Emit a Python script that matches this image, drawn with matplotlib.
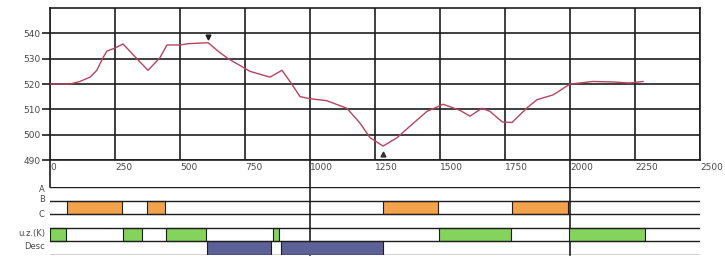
import matplotlib
matplotlib.use("Agg")
import matplotlib.pyplot as plt
import matplotlib.transforms as mtransforms
import numpy as np

# --- Data ---
trace_x = [0, 77, 115, 154, 180, 204, 219, 250, 281, 334, 377, 423, 450, 500,
           531, 608, 646, 685, 731, 769, 846, 892, 923, 962, 1000, 1065, 1142,
           1192, 1231, 1281, 1335, 1385, 1450, 1512, 1577, 1615, 1661, 1692,
           1740, 1777, 1835, 1873, 1935, 2000, 2038, 2088, 2165, 2231, 2281]
trace_y = [520, 520, 521, 522.7, 525.4, 530.4, 533, 534.2, 535.8, 530, 525.4,
           530.4, 535.4, 535.4, 535.9, 536.3, 533, 530, 527.3, 525, 522.7,
           525.4, 521, 515, 514.2, 513.4, 510.4, 504.6, 498.8, 495.5, 498.8,
           503.4, 509.2, 512, 509.6, 507.3, 510.4, 509.2, 505, 504.8, 510.6,
           513.8, 515.7, 520, 520.4, 521, 520.8, 520.4, 521]

x_ticks = [0, 250, 500, 750, 1000, 1250, 1500, 1750, 2000, 2250, 2500]
y_ticks = [490, 500, 510, 520, 530, 540]

row_labels = ["A", "B", "C", "u.z.(K)", "Desc"]
row_b = [(65, 277), (373, 442), (1281, 1492), (1777, 1992)]
row_uzk = [(0, 62), (281, 354), (446, 600), (858, 881), (1496, 1773), (1996, 2288)]
row_desc = [(604, 850), (888, 1281)]
row_spans = {1: row_b, 3: row_uzk, 4: row_desc}
row_colors = {1: "#f3a24c", 3: "#84d35c", 4: "#5c6198"}

LINE_C = "#b9435e"
GRID_C = "#1e1e1e"
TEXT_C = "#4a4a4a"

W, H = 725, 257
fig = plt.figure(figsize=(W / 100, H / 100), dpi=100)

# main trace axes
ax = fig.add_axes([50 / W, (H - 160) / H, 650 / W, 152 / H])
ax.plot(trace_x, trace_y, color=LINE_C, lw=1.0, zorder=3)

i_max = int(np.argmax(trace_y))
i_min = int(np.argmin(trace_y))
ax.plot(trace_x[i_max], trace_y[i_max] + 2.3, marker="v", ms=3.5, color="#222", zorder=4)
ax.plot(trace_x[i_min], trace_y[i_min] - 3.0, marker="^", ms=3.5, color="#333", zorder=4)

ax.set_xlim(0, 2500)
ax.set_ylim(490, 550)
ax.set_xticks(x_ticks)
ax.set_yticks(y_ticks)
ax.set_xticklabels([str(t) for t in x_ticks], ha="left")
ax.grid(True, color=GRID_C, lw=1.2)
ax.set_axisbelow(True)
for s in ax.spines.values():
    s.set_color(GRID_C)
    s.set_linewidth(1.2)
ax.tick_params(axis="x", length=0, pad=2, labelsize=6.5, labelcolor=TEXT_C)
ax.tick_params(axis="y", length=6, width=1.2, color=GRID_C, pad=1,
               labelsize=6.5, labelcolor=TEXT_C)

# lines that run on below the plot
ax.axvline(0, ymin=-27 / 152, ymax=0, color=GRID_C, lw=1.2, clip_on=False)
for xv in (1000, 2000):
    ax.axvline(xv, ymin=-95 / 152, ymax=0, color=GRID_C, lw=1.2, clip_on=False)

# --- status rows ---
ax2 = fig.add_axes([50 / W, 2 / H, 650 / W, 68 / H])
ax2.set_xlim(0, 2500)
ax2.set_ylim(len(row_labels), 0)
ax2.axis("off")

for r, spans in row_spans.items():
    ax2.broken_barh([(a, b - a) for a, b in spans], (r, 1),
                    facecolors=row_colors[r], edgecolor=GRID_C, lw=0.8, zorder=2)

for k in range(len(row_labels) + 1):
    ax2.axhline(k, color=GRID_C, lw=1.0, zorder=3)

trans = mtransforms.blended_transform_factory(ax2.transAxes, ax2.transData)
label_y = [0.2, 0.9, 2.0, 3.4, 4.4]
for k, lab in enumerate(row_labels):
    ax2.text(-0.008, label_y[k], lab, transform=trans, ha="right", va="center",
             fontsize=6, color=TEXT_C)

fig.savefig("out.png", dpi=100)
